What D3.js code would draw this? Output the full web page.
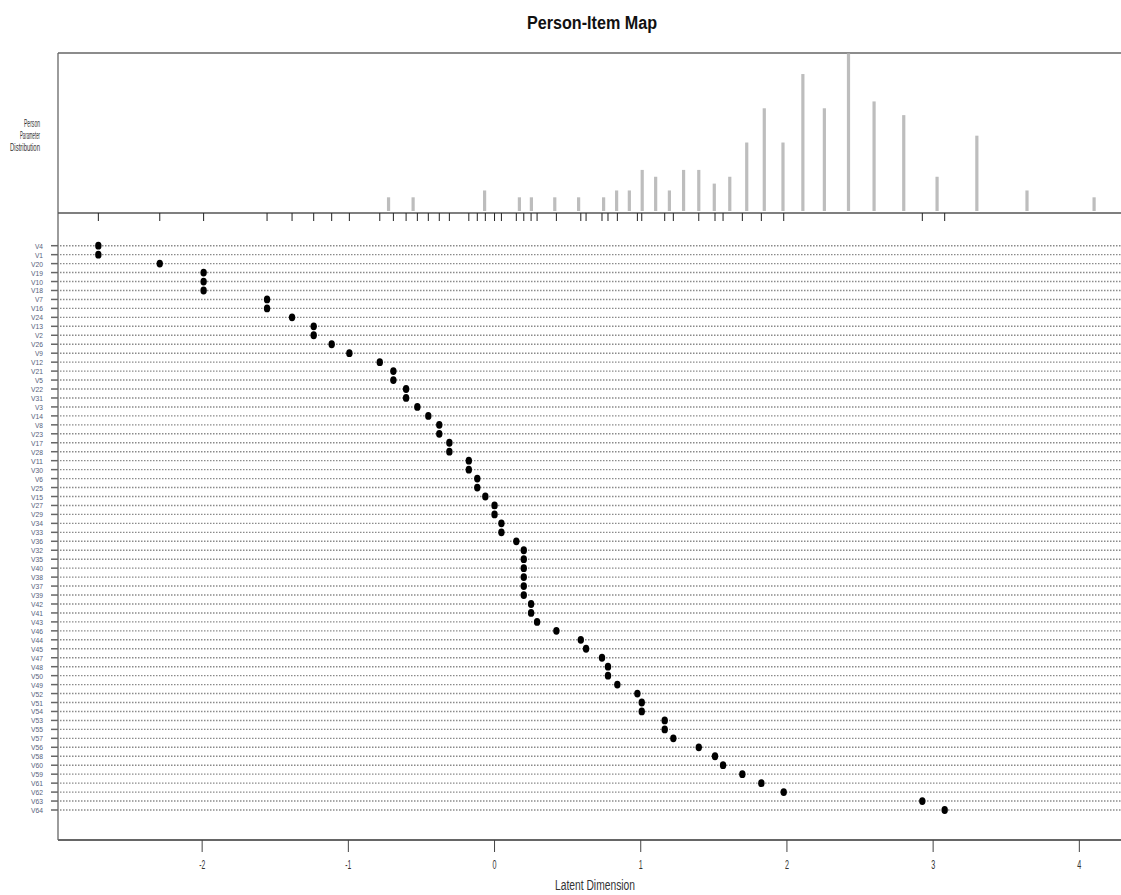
<!DOCTYPE html>
<html>
<head>
<meta charset="utf-8">
<script src="https://cdn.jsdelivr.net/npm/d3@7"></script>
<style>
  html, body { margin: 0; padding: 0; background: #fff; }
  svg { display: block; }
  text { font-family: "Liberation Sans", Arial, sans-serif; }
</style>
</head>
<body>
<svg id="chart" width="1121" height="895"></svg>
<script>
// ---- data ----
const itemLabels = ["V4","V1","V20","V19","V10","V18","V7","V16","V24","V13",
  "V2","V26","V9","V12","V21","V5","V22","V31","V3","V14",
  "V8","V23","V17","V28","V11","V30","V6","V25","V15","V27",
  "V29","V34","V33","V36","V32","V35","V40","V38","V37","V39",
  "V42","V41","V43","V46","V44","V45","V47","V48","V50","V49",
  "V52","V51","V54","V53","V55","V57","V56","V58","V60","V59",
  "V61","V62","V63","V64"];
const itemLocations = [-2.71,-2.71,-2.29,-1.99,-1.99,-1.99,-1.556,-1.556,-1.385,-1.237,
  -1.237,-1.114,-0.993,-0.785,-0.692,-0.692,-0.605,-0.605,-0.528,-0.453,
  -0.378,-0.378,-0.309,-0.309,-0.176,-0.176,-0.118,-0.118,-0.063,0.0,
  0.0,0.047,0.047,0.149,0.200,0.200,0.200,0.200,0.200,0.200,
  0.250,0.250,0.291,0.423,0.590,0.626,0.735,0.776,0.776,0.840,
  0.977,1.007,1.007,1.164,1.164,1.223,1.397,1.508,1.563,1.695,
  1.825,1.978,2.926,3.079];
const personValues = [-0.725,-0.557,-0.068,0.170,0.252,0.412,0.575,0.746,0.835,0.922,
  1.010,1.102,1.196,1.293,1.397,1.503,1.609,1.725,1.845,1.973,
  2.109,2.256,2.421,2.596,2.799,3.027,3.299,3.642,4.101];
const personCounts = [2,2,3,2,2,2,2,2,3,3,
  6,5,3,6,6,4,5,10,15,10,
  20,15,23,16,14,5,11,3,2];
const xTickValues = [-2,-1,0,1,2,3,4];
const xTickLabels = ["-2","-1","0","1","2","3","4"];
const titleText = "Person-Item Map";
const xAxisTitle = "Latent Dimension";
const histLabel = ["Person","Parameter","Distribution"];

// ---- layout ----
const svg = d3.select("#chart");
const L = 58, R = 1130.5;
const histTop = 53, histBase = 213, barBase = 211;
const plotBottom = 840;
const rowTop = 245.7, rowBottom = 810;

const x = d3.scaleLinear().domain([-2.986, 4.35]).range([L, R]);
const yHist = d3.scaleLinear().domain([0, 23]).range([barBase, 53.5]);
const yItem = d3.scalePoint().domain(itemLabels.map((d,i)=>i)).range([rowTop, rowBottom]);

// title
svg.append("text").attr("x", 592).attr("y", 29).attr("text-anchor","middle")
  .attr("font-size", 18).attr("font-weight","bold").attr("fill","#111")
  .attr("textLength", 130).attr("lengthAdjust","spacingAndGlyphs")
  .text(titleText);

// histogram label
histLabel.forEach((t,i)=>{
  const w = [16,20,30][i];
  svg.append("text").attr("x", 40).attr("y", 127 + i*12).attr("text-anchor","end")
    .attr("font-size", 10).attr("fill","#333")
    .attr("textLength", w).attr("lengthAdjust","spacingAndGlyphs")
    .text(t);
});

// frames
svg.append("line").attr("x1", L).attr("x2", 1121).attr("y1", histTop).attr("y2", histTop)
  .attr("stroke","#666").attr("stroke-width",1.3);
svg.append("line").attr("x1", L).attr("x2", L).attr("y1", histTop).attr("y2", plotBottom)
  .attr("stroke","#666").attr("stroke-width",1.3);
svg.append("line").attr("x1", L).attr("x2", 1121).attr("y1", histBase).attr("y2", histBase)
  .attr("stroke","#555").attr("stroke-width",1.3);
svg.append("line").attr("x1", L).attr("x2", 1121).attr("y1", plotBottom).attr("y2", plotBottom)
  .attr("stroke","#666").attr("stroke-width",1.8);

// histogram bars
svg.append("g").selectAll("rect").data(personValues).join("rect")
  .attr("x", d => x(d) - 1.6)
  .attr("width", 3.2)
  .attr("y", (d,i) => yHist(personCounts[i]))
  .attr("height", (d,i) => barBase - yHist(personCounts[i]))
  .attr("fill", "#bdbdbd");

// item location rug ticks under histogram baseline
const uniqueLocs = Array.from(new Set(itemLocations));
svg.append("g").selectAll("line").data(uniqueLocs).join("line")
  .attr("x1", d => x(d)).attr("x2", d => x(d))
  .attr("y1", histBase).attr("y2", histBase + 8)
  .attr("stroke", "#222").attr("stroke-width", 1);

// item rows: dotted lines + left ticks + labels
const rows = svg.append("g");
rows.selectAll("line.row").data(itemLabels).join("line").attr("class","row")
  .attr("x1", L + 2).attr("x2", 1121)
  .attr("y1", (d,i) => yItem(i)).attr("y2", (d,i) => yItem(i))
  .attr("stroke", "#8a8a8a").attr("stroke-width", 1.4)
  .attr("stroke-dasharray", "1.5,1.5");
rows.selectAll("line.tk").data(itemLabels).join("line").attr("class","tk")
  .attr("x1", L - 7).attr("x2", L)
  .attr("y1", (d,i) => yItem(i)).attr("y2", (d,i) => yItem(i))
  .attr("stroke", "#666").attr("stroke-width", 1.5);
rows.selectAll("text").data(itemLabels).join("text")
  .attr("x", 43).attr("y", (d,i) => yItem(i) + 3)
  .attr("text-anchor", "end").attr("font-size", 7.6).attr("fill", "#56607a")
  .attr("textLength", d => d.length > 2 ? 12 : 8).attr("lengthAdjust","spacingAndGlyphs")
  .text(d => d);

// item points
svg.append("g").selectAll("ellipse").data(itemLocations).join("ellipse")
  .attr("cx", d => x(d)).attr("cy", (d,i) => yItem(i))
  .attr("rx", 3.2).attr("ry", 3.9).attr("fill", "#000");

// bottom axis
const ax = svg.append("g");
ax.selectAll("line").data(xTickValues).join("line")
  .attr("x1", d => x(d)).attr("x2", d => x(d))
  .attr("y1", plotBottom).attr("y2", plotBottom + 12)
  .attr("stroke", "#444").attr("stroke-width", 1);
ax.selectAll("text").data(xTickValues).join("text")
  .attr("x", d => x(d)).attr("y", 869).attr("text-anchor","middle")
  .attr("font-size", 12.5).attr("fill","#333")
  .attr("textLength", (d,i) => xTickLabels[i].length > 1 ? 6 : 4).attr("lengthAdjust","spacingAndGlyphs")
  .text((d,i) => xTickLabels[i]);

svg.append("text").attr("x", 595).attr("y", 890).attr("text-anchor","middle")
  .attr("font-size", 14).attr("fill","#333")
  .attr("textLength", 80).attr("lengthAdjust","spacingAndGlyphs")
  .text(xAxisTitle);
</script>
</body>
</html>
